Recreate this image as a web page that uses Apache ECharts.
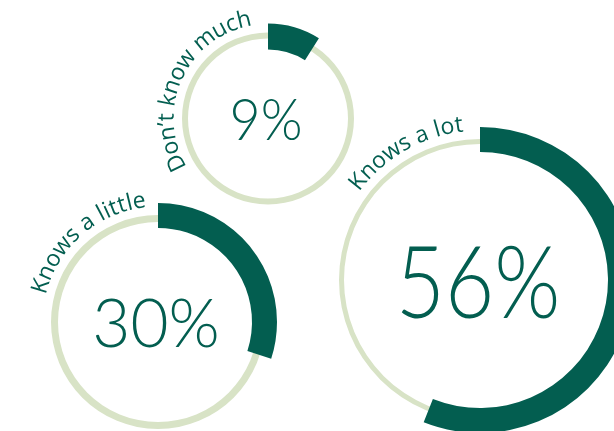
<!DOCTYPE html>
<html>
<head>
<meta charset="utf-8">
<script src="https://cdn.jsdelivr.net/npm/echarts@6/dist/echarts.min.js"></script>
<style>
html,body{margin:0;padding:0;background:#fff;}
#chart{width:614px;height:431px;}
</style>
</head>
<body>
<div id="chart"></div>
<script>
// ---- data ----
const categories = ["Don’t know much", "Knows a little", "Knows a lot"];
const values = [9, 30, 56];
const maxValue = 100;

// ---- layout / style (not data) ----
const DARK = '#035e50';
const LIGHT = '#d8e3c6';
const centers = [[268, 118.5], [158, 322], [480, 280]];
const trackRadii = [[80, 86], [100, 107], [136, 141]];
const arcRadii = [[69, 95], [94, 119], [128, 153]];
const pctFontSizes = [57, 67, 101];
const pctScaleX = [0.94, 0.98, 0.84];
const labelRadii = [101, 122, 156];
const labelFirstAngles = [205.8, 163, 141.2]; // degrees, centre of first character
const labelFontSize = 23;
const labelSpacing = 0.6;

const chart = echarts.init(document.getElementById('chart'));
const series = [];
categories.forEach((name, i) => {
  series.push({
    type: 'pie',
    silent: true,
    animation: false,
    center: centers[i],
    radius: trackRadii[i],
    label: { show: false },
    labelLine: { show: false },
    itemStyle: { color: LIGHT },
    data: [{ value: maxValue, name: name + ' track' }]
  });
  series.push({
    type: 'pie',
    silent: true,
    animation: false,
    startAngle: 90,
    clockwise: true,
    center: centers[i],
    radius: arcRadii[i],
    avoidLabelOverlap: false,
    label: { show: false },
    labelLine: { show: false },
    data: [
      { value: values[i], name: name, itemStyle: { color: DARK } },
      { value: maxValue - values[i], name: name + ' rest', itemStyle: { color: 'rgba(0,0,0,0)' } }
    ]
  });
});

const graphics = [];
// centre percentages
values.forEach((v, i) => {
  const fs = pctFontSizes[i];
  graphics.push({
    type: 'text',
    x: centers[i][0] - 2,
    y: centers[i][1] + fs * 0.05,
    scaleX: pctScaleX[i],
    silent: true,
    style: {
      text: v + '%',
      fill: DARK,
      font: '300 ' + fs + 'px Lato',
      align: 'center', verticalAlign: 'middle',
      textAlign: 'center', textVerticalAlign: 'middle'
    }
  });
});

// curved category labels
const ctx = document.createElement('canvas').getContext('2d');
categories.forEach((text, i) => {
  const [cx, cy] = centers[i];
  const r = labelRadii[i];
  ctx.font = labelFontSize + 'px "Open Sans"';
  const chars = Array.from(text);
  const ws = chars.map(c => ctx.measureText(c).width);
  let s = 0;
  const t0 = labelFirstAngles[i] * Math.PI / 180;
  chars.forEach((c, k) => {
    if (k > 0) s += ws[k - 1] / 2 + labelSpacing + ws[k] / 2;
    const th = t0 - s / r;
    if (c === ' ') return;
    graphics.push({
      type: 'text',
      x: cx + r * Math.cos(th),
      y: cy - r * Math.sin(th),
      rotation: th - Math.PI / 2,
      silent: true,
      style: {
        text: c,
        fill: DARK,
        font: labelFontSize + 'px "Open Sans"',
        align: 'center', verticalAlign: 'middle',
        textAlign: 'center', textVerticalAlign: 'middle'
      }
    });
  });
});

chart.setOption({
  backgroundColor: '#fff',
  animation: false,
  series: series,
  graphic: graphics
});
</script>
</body>
</html>
